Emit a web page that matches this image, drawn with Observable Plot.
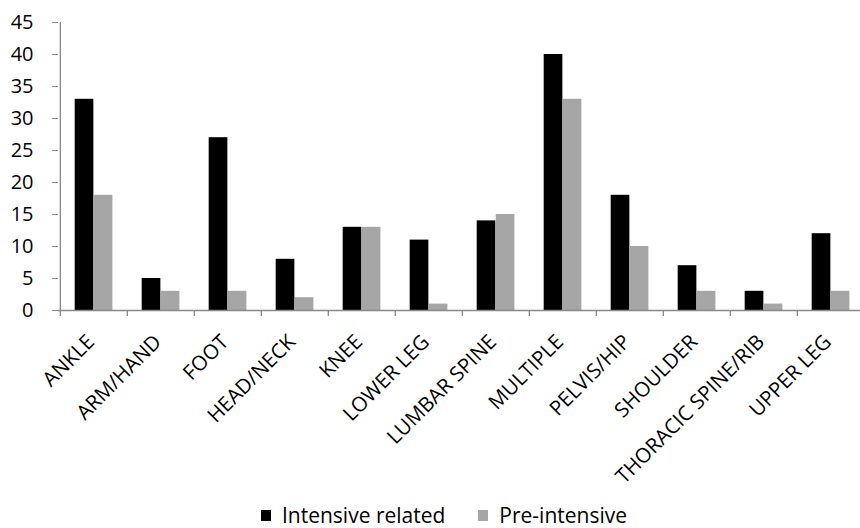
<!DOCTYPE html>
<html>
<head>
<meta charset="utf-8">
<script src="https://cdn.jsdelivr.net/npm/d3@7"></script>
<script src="https://cdn.jsdelivr.net/npm/@observablehq/plot@0.6"></script>
<style>
  html, body { margin: 0; padding: 0; background: #fff; overflow: hidden; }
  #chart { width: 860px; height: 490px; }
  .legend { display: flex; justify-content: center; align-items: center; gap: 33px; height: 24px; line-height: 24px; padding-top: 13px;
    font-family: "Open Sans", sans-serif; font-size: 21px; color: #000; margin-left: 28px; }
  .legend span.sw { display: inline-block; width: 10px; height: 11px; margin-right: 11px; }
  .legend .item { display: flex; align-items: center; white-space: nowrap; }
</style>
</head>
<body>
<div id="chart"></div>
<script>
const categories = ["ANKLE", "ARM/HAND", "FOOT", "HEAD/NECK", "KNEE", "LOWER LEG", "LUMBAR SPINE", "MULTIPLE", "PELVIS/HIP", "SHOULDER", "THORACIC SPINE/RIB", "UPPER LEG"];
const intensiveRelated = [33, 5, 27, 8, 13, 11, 14, 40, 18, 7, 3, 12];
const preIntensive = [18, 3, 3, 2, 13, 1, 15, 33, 10, 3, 1, 3];
const seriesNames = ["Intensive related", "Pre-intensive"];
const seriesColors = ["#000000", "#a6a6a6"];
const yTicks = [0, 5, 10, 15, 20, 25, 30, 35, 40, 45];

const W = 860, H = 490, ML = 58, MR = -6, MT = 22, MB = 180;
const step = (W - ML - MR) / categories.length;
const barW = step * 0.2825;
const outer = step * 0.218;

const rows = categories.flatMap((c, i) => [
  {category: c, series: seriesNames[0], value: intensiveRelated[i]},
  {category: c, series: seriesNames[1], value: preIntensive[i]}
]);

const axisColor = "#898989";
const font = "Open Sans, sans-serif";

const chart = Plot.plot({
  width: W, height: H,
  marginLeft: ML, marginRight: MR, marginTop: MT, marginBottom: MB,
  style: {fontFamily: font, fontSize: "20px", color: "#000", background: "#fff", overflow: "hidden"},
  x: {domain: categories, padding: 0, label: null},
  y: {domain: [0, 45], label: null},
  color: {domain: seriesNames, range: seriesColors},
  marks: [
    Plot.barY(rows.filter(d => d.series === seriesNames[0]), {x: "category", y: "value", fill: "series", insetLeft: outer, insetRight: step - outer - barW}),
    Plot.barY(rows.filter(d => d.series === seriesNames[1]), {x: "category", y: "value", fill: "series", insetLeft: outer + barW, insetRight: step - outer - 2 * barW}),
    Plot.ruleY([0], {stroke: axisColor, strokeWidth: 1.3}),
    Plot.ruleX([categories[0]], {x: d => d, y1: 0, y2: 45, dx: -step / 2, stroke: axisColor, strokeWidth: 1.3}),
    Plot.ruleX(categories, {x: d => d, y1: 0, y2: 0, insetBottom: -6, dx: -step / 2, stroke: axisColor, strokeWidth: 1.3}),
    Plot.axisY({ticks: yTicks, tickSize: 6, tickPadding: 19, stroke: axisColor, fontSize: 20, fill: "#000"}),
    Plot.axisX({tickSize: 0, tickPadding: 28, dx: -3, tickRotate: -45, fontSize: 20.5, fill: "#000"})
  ]
});
document.getElementById("chart").appendChild(chart);

const legend = document.createElement("div");
legend.className = "legend";
seriesNames.forEach((n, i) => {
  const it = document.createElement("div");
  it.className = "item";
  const sw = document.createElement("span");
  sw.className = "sw";
  sw.style.background = seriesColors[i];
  it.appendChild(sw);
  it.appendChild(document.createTextNode(n));
  legend.appendChild(it);
});
document.body.appendChild(legend);
</script>
</body>
</html>
